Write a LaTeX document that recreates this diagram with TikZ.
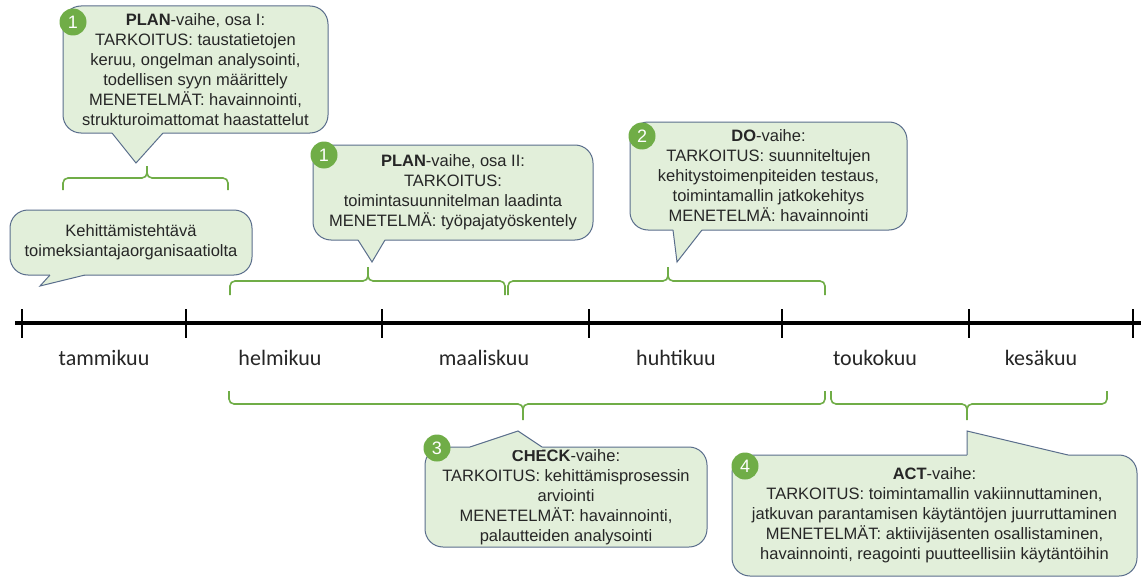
\documentclass[tikz,border=0pt]{standalone}
\usepackage{fontspec}
\setmainfont{Liberation Sans}
\newfontfamily\monthfont{Carlito}
\definecolor{boxfill}{HTML}{E2EFDA}
\definecolor{boxline}{HTML}{5A6E8C}
\definecolor{badgegreen}{HTML}{70AD47}
\definecolor{txt}{HTML}{262626}
\begin{document}
\begin{tikzpicture}[x=1pt,y=-1pt,
  callout/.style={draw=boxline, fill=boxfill, line width=1pt, rounded corners=18pt,
    align=center, inner sep=0pt, font=\fontsize{16.5}{20}\selectfont, text=txt},
  badge/.style={circle, fill=badgegreen, text=white, minimum size=27pt, inner sep=0pt,
    font=\fontsize{18}{20}\selectfont},
  bracketline/.style={draw=badgegreen, line width=1.6pt, rounded corners=5pt},
  month/.style={font=\monthfont\fontsize{22}{24}\selectfont, text=txt, anchor=base},
  ptrline/.style={draw=boxline, line width=1pt, line join=miter},
  axis/.style={line width=3.5pt},
  tick/.style={line width=2.2pt}]
\useasboundingbox[fill=white] (0,0) rectangle (1141,578);

% ---------------- timeline ----------------
\coordinate (axl) at (15,323);
\coordinate (axr) at (1141,323);
\draw[axis] (axl) -- (axr);
\foreach \x in {22,186,382,589,782,969,1133}
  \draw[tick] (\x,309) -- (\x,338);

\node[month] (m1) at (104,365) {tammikuu};
\node[month] (m2) at (280,365) {helmikuu};
\node[month] (m3) at (484,365) {maaliskuu};
\node[month] (m4) at (676,365) {huhtikuu};
\node[month] (m5) at (875,365) {toukokuu};
\node[month] (m6) at (1041,365) {kesäkuu};

% ---------------- brackets ----------------
\draw[bracketline] (63,190) -- (63,178) -- (147,178) -- (147,166)
                   (228,190) -- (228,178) -- (147,178) -- (147,166);
\draw[bracketline] (230,295) -- (230,281) -- (368,281) -- (368,267)
                   (505,295) -- (505,281) -- (368,281) -- (368,267);
\draw[bracketline] (508,295) -- (508,281) -- (668,281) -- (668,267)
                   (825,295) -- (825,281) -- (668,281) -- (668,267);
\draw[bracketline] (229,391) -- (229,404) -- (523,404) -- (523,420)
                   (825,391) -- (825,404) -- (523,404) -- (523,420);
\draw[bracketline] (831,391) -- (831,404) -- (967,404) -- (967,420)
                   (1107,391) -- (1107,404) -- (967,404) -- (967,420);

% ---------------- callouts ----------------
% PLAN I
\node[callout, minimum width=265pt, minimum height=127pt] (p1) at (195.5,69.5)
  {\textbf{PLAN}-vaihe, osa I:\\TARKOITUS: taustatietojen\\keruu, ongelman analysointi,\\todellisen syyn määrittely\\MENETELMÄT: havainnointi,\\strukturoimattomat haastattelut};
\fill[boxfill] (112,133) -- (136,163) -- (163,133) -- (163,130) -- (112,130) -- cycle;
\draw[ptrline] (112,133) -- (136,163) -- (163,133);
\node[badge] (n1) at (73,22) {1};

% Kehittamistehtava
\node[callout, minimum width=242pt, minimum height=65pt] (k) at (131,242.5)
  {Kehittämistehtävä\\toimeksiantajaorganisaatiolta};
\fill[boxfill] (50,275) -- (40,286) -- (85,275) -- (85,272) -- (50,272) -- cycle;
\draw[ptrline] (50,275) -- (40,286) -- (85,275);

% PLAN II
\node[callout, minimum width=280pt, minimum height=95pt] (p2) at (453,192.5)
  {\textbf{PLAN}-vaihe, osa II:\\TARKOITUS:\\toimintasuunnitelman laadinta\\MENETELMÄ: työpajatyöskentely};
\fill[boxfill] (358,240) -- (372,262) -- (385,240) -- (385,237) -- (358,237) -- cycle;
\draw[ptrline] (358,240) -- (372,262) -- (385,240);
\node[badge] (n2) at (324,155) {1};

% DO
\node[callout, minimum width=277pt, minimum height=108pt] (d) at (768.5,176)
  {\textbf{DO}-vaihe:\\TARKOITUS: suunniteltujen\\kehitystoimenpiteiden testaus,\\toimintamallin jatkokehitys\\MENETELMÄ: havainnointi};
\fill[boxfill] (673,230) -- (677,262) -- (702,230) -- (702,227) -- (673,227) -- cycle;
\draw[ptrline] (673,230) -- (677,262) -- (702,230);
\node[badge] (n3) at (642,136) {2};

% CHECK
\node[callout, minimum width=282pt, minimum height=100pt] (c) at (566,497)
  {\textbf{CHECK}-vaihe:\\TARKOITUS: kehittämisprosessin\\arviointi\\MENETELMÄT: havainnointi,\\palautteiden analysointi};
\fill[boxfill] (470,447) -- (518,431) -- (542,447) -- (542,450) -- (470,450) -- cycle;
\draw[ptrline] (470,447) -- (518,431) -- (542,447);
\node[badge] (n4) at (437,448) {3};

% ACT
\node[callout, minimum width=405pt, minimum height=121pt] (a) at (934.5,515.5)
  {\textbf{ACT}-vaihe:\\TARKOITUS: toimintamallin vakiinnuttaminen,\\jatkuvan parantamisen käytäntöjen juurruttaminen\\MENETELMÄT: aktiivijäsenten osallistaminen,\\havainnointi, reagointi puutteellisiin käytäntöihin};
\fill[boxfill] (967,455) -- (967,431) -- (1068,455) -- (1068,458) -- (967,458) -- cycle;
\draw[ptrline] (967,455) -- (967,431) -- (1068,455);
\node[badge] (n5) at (745,466) {4};
\end{tikzpicture}
\end{document}
